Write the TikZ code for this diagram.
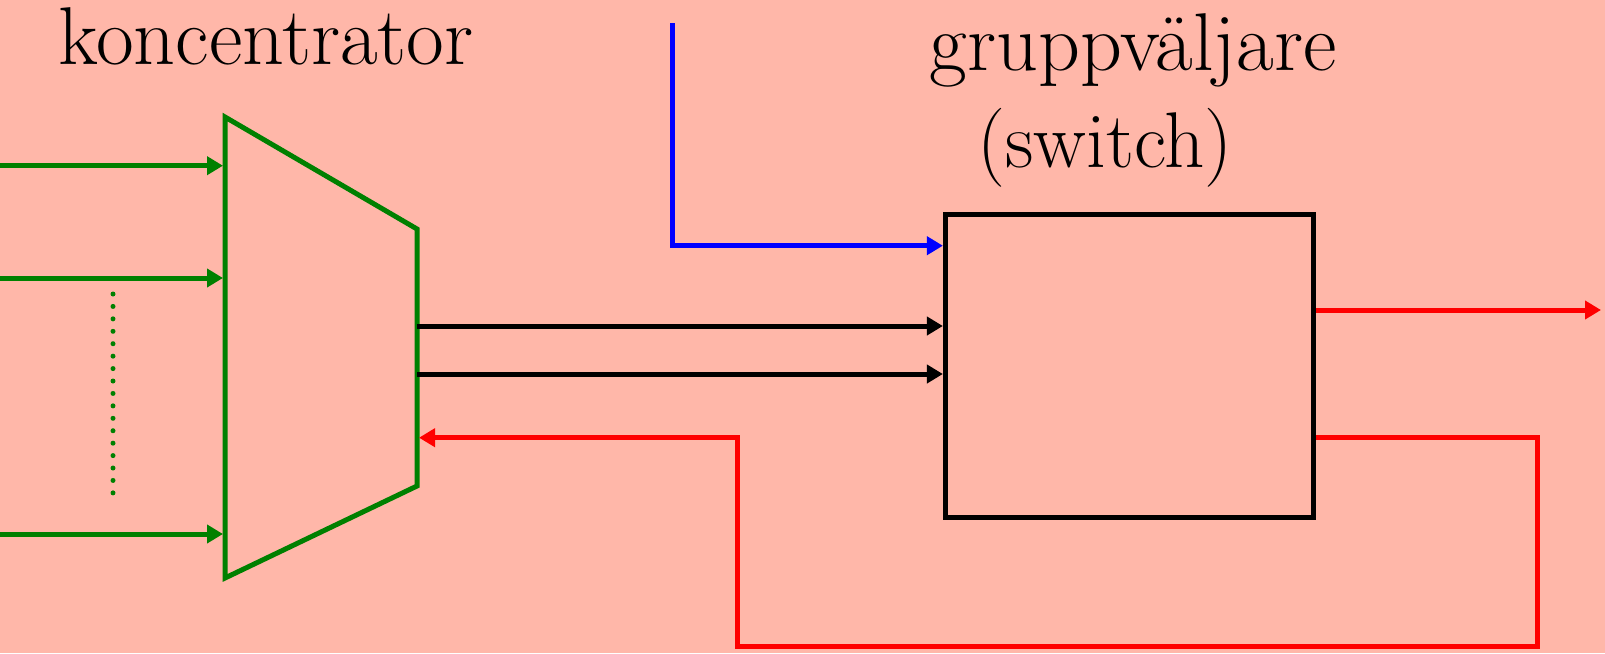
\documentclass[tikz,border=0pt]{standalone}
\usetikzlibrary{arrows.meta}
\definecolor{bg}{RGB}{255,183,169}
\definecolor{grn}{RGB}{0,128,0}
\definecolor{blu}{RGB}{0,0,255}
\definecolor{rd}{RGB}{255,0,0}
\begin{document}
\begin{tikzpicture}[x=1pt,y=-1pt,
  lbl/.style={font=\fontsize{82}{90}\selectfont, inner sep=0pt, anchor=base},
  wire/.style={line width=5pt, line join=miter},
  tip/.style={wire, -{Triangle[length=16pt,width=18pt]}}]
\fill[bg] (0,0) rectangle (1605,653);
\useasboundingbox (0,0) rectangle (1605,653);
% labels
\node[lbl] (lk) at (266,64.5) {koncentrator};
\node[lbl] (lg) at (1133,70) {gruppväljare};
\node[lbl, font=\fontsize{79}{86}\selectfont] (ls) at (1105,167) {(switch)};
% concentrator
\coordinate (t1) at (225,117);
\coordinate (t2) at (417,229);
\coordinate (t3) at (417,486);
\coordinate (t4) at (225,578);
\draw[wire, grn] (t1) -- (t2) -- (t3) -- (t4) -- cycle;
% inputs
\coordinate (i1) at (0,165.7);
\coordinate (i2) at (0,278);
\coordinate (i3) at (0,534);
\coordinate (e1) at (223,165.7);
\coordinate (e2) at (223,278);
\coordinate (e3) at (223,534);
\draw[tip, grn] (i1) -- (e1);
\draw[tip, grn] (i2) -- (e2);
\draw[tip, grn] (i3) -- (e3);
\coordinate (d1) at (113,294);
\coordinate (d2) at (113,493.5);
\draw[grn, line width=5pt, line cap=round, dash pattern=on 0pt off 12.43pt] (d1) -- (d2);
% switch
\node[draw, line width=5pt, minimum width=368pt, minimum height=303pt, inner sep=0pt] (sw) at (1129.4,366) {};
% blue control
\coordinate (b1) at (672,23);
\coordinate (b2) at (672,245.7);
\draw[tip, blu] (b1) -- (b2) -- (b2 -| sw.west);
% black links
\coordinate (k1) at (417,326);
\coordinate (k2) at (417,374);
\draw[tip, black] (k1) -- (k1 -| sw.west);
\draw[tip, black] (k2) -- (k2 -| sw.west);
% red output
\coordinate (ro) at (1601,310);
\draw[tip, rd] (ro -| sw.east) -- (ro);
% red loop
\coordinate (r1) at (1537,437.7);
\coordinate (r2) at (1537,646);
\coordinate (r3) at (737,646);
\coordinate (r4) at (737,437.7);
\coordinate (rin) at (419,437.7);
\draw[tip, rd] (r1 -| sw.east) -- (r1) -- (r2) -- (r3) -- (r4) -- (rin);
\end{tikzpicture}
\end{document}
